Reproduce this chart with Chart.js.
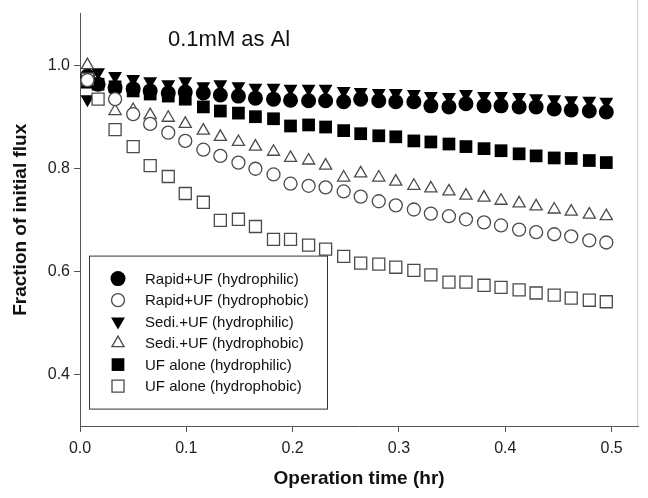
<!DOCTYPE html>
<html lang="en">
<head>
<meta charset="UTF-8">
<title>Fraction of initial flux</title>
<script src="https://cdn.jsdelivr.net/npm/chart.js"></script>
<style>
    html, body { margin: 0; padding: 0; background: #fff; }
</style>
</head>
<body>
<canvas id="fluxChart" width="648" height="498"></canvas>

<script>
    // operation time (hr)
    const times = [0.007, 0.017, 0.033, 0.050, 0.066, 0.083, 0.099, 0.116, 0.132, 0.149, 0.165,
        0.182, 0.198, 0.215, 0.231, 0.248, 0.264, 0.281, 0.297, 0.314, 0.330,
        0.347, 0.363, 0.380, 0.396, 0.413, 0.429, 0.446, 0.462, 0.479, 0.495];

    // fraction of initial flux, one list per run (null = point not shown)
    const rapidPhilic = [0.979, 0.963, 0.956, 0.954, 0.950, 0.946, 0.948, 0.946, 0.942, 0.940, 0.936,
        0.934, 0.932, 0.931, 0.931, 0.929, 0.934, 0.931, 0.929, 0.929, 0.921,
        0.919, 0.925, 0.921, 0.921, 0.919, 0.919, 0.915, 0.913, 0.911, 0.909];
    const rapidPhobic = [0.971, null, 0.934, 0.905, 0.886, 0.869, 0.853, 0.836, 0.824, 0.811, 0.799,
        0.788, 0.770, 0.766, 0.763, 0.755, 0.745, 0.736, 0.728, 0.720, 0.712,
        0.707, 0.701, 0.695, 0.689, 0.681, 0.676, 0.672, 0.668, 0.660, 0.656];
    const sediPhilic = [0.934, 0.986, 0.979, 0.973, 0.969, 0.963, 0.969, 0.959, 0.963, 0.959, 0.956,
        0.956, 0.954, 0.954, 0.954, 0.950, 0.948, 0.946, 0.946, 0.944, 0.940,
        0.938, 0.944, 0.940, 0.940, 0.938, 0.936, 0.934, 0.932, 0.931, 0.929];
    const sediPhobic = [1.000, null, 0.911, 0.913, 0.903, 0.898, 0.886, 0.873, 0.861, 0.851, 0.842,
        0.832, 0.820, 0.815, 0.805, 0.782, 0.790, 0.782, 0.774, 0.766, 0.761,
        0.755, 0.747, 0.743, 0.737, 0.732, 0.726, 0.720, 0.716, 0.710, 0.707];
    const ufPhilic = [0.967, 0.963, 0.958, 0.950, 0.944, 0.940, 0.934, 0.919, 0.911, 0.907, 0.900,
        0.896, 0.882, 0.884, 0.880, 0.873, 0.867, 0.863, 0.861, 0.853, 0.851,
        0.847, 0.842, 0.838, 0.834, 0.828, 0.824, 0.820, 0.819, 0.815, 0.811];
    const ufPhobic = [0.973, 0.934, 0.875, 0.842, 0.805, 0.784, 0.751, 0.734, 0.699, 0.701, 0.687,
        0.662, 0.662, 0.651, 0.643, 0.629, 0.616, 0.614, 0.608, 0.602, 0.593,
        0.579, 0.579, 0.573, 0.569, 0.564, 0.558, 0.554, 0.548, 0.544, 0.541];

    const seriesNames = ["Rapid+UF (hydrophilic)", "Rapid+UF (hydrophobic)", "Sedi.+UF (hydrophilic)",
        "Sedi.+UF (hydrophobic)", "UF alone (hydrophilic)", "UF alone (hydrophobic)"];
    const xTicks = [0.0, 0.1, 0.2, 0.3, 0.4, 0.5];
    const yTicks = [0.4, 0.6, 0.8, 1.0];
    const note = "0.1mM as Al";

    const FONT = '"Liberation Sans", Arial, Helvetica, sans-serif';

    function toPoints(values) {
        let pts = [];
        values.forEach(function (v, i) {
            if (v !== null) pts.push({ x: times[i], y: v });
        });
        return pts;
    }

    // filled = black, open = white with grey outline
    function serie(label, values, shape, radius, filled, rotation) {
        return {
            label: label,
            data: toPoints(values),
            showLine: false,
            pointStyle: shape,
            pointRadius: radius,
            pointHoverRadius: radius,
            pointRotation: rotation || 0,
            pointBackgroundColor: filled ? '#000' : '#fff',
            pointBorderColor: filled ? '#000' : '#4a4a4a',
            pointBorderWidth: filled ? 0 : 1.3,
            order: filled ? 1 : 0,
            clip: false
        };
    }

    function drawMarker(ctx, ds, x, y) {
        let r = ds.pointRadius;
        ctx.save();
        ctx.fillStyle = ds.pointBackgroundColor;
        ctx.strokeStyle = ds.pointBorderColor;
        ctx.beginPath();
        if (ds.pointStyle == 'circle') {
            ctx.arc(x, y, r, 0, Math.PI * 2);
        } else if (ds.pointStyle == 'rect') {
            let s = r * Math.SQRT1_2;
            ctx.rect(x - s, y - s, 2 * s, 2 * s);
        } else {
            let d = ds.pointRotation == 180 ? -1 : 1;
            ctx.moveTo(x, y - d * r);
            ctx.lineTo(x + r * 0.866, y + d * r / 2);
            ctx.lineTo(x - r * 0.866, y + d * r / 2);
            ctx.closePath();
        }
        ctx.fill();
        if (ds.pointBorderWidth > 0) {
            ctx.lineWidth = ds.pointBorderWidth;
            ctx.stroke();
        }
        ctx.restore();
    }

    // note text, legend inside the plot and the thin right frame
    const insideLegend = {
        id: 'insideLegend',
        afterDatasetsDraw(chart) {
            const ctx = chart.ctx;
            const area = chart.chartArea;
            ctx.save();

            ctx.strokeStyle = '#c8c8c8';
            ctx.lineWidth = 1;
            ctx.beginPath();
            ctx.moveTo(area.right - 0.5, 0);
            ctx.lineTo(area.right - 0.5, area.bottom);
            ctx.stroke();

            ctx.fillStyle = '#111';
            ctx.textAlign = 'left';
            ctx.textBaseline = 'middle';
            ctx.font = '22px ' + FONT;
            ctx.fillText(note, area.left + 88, area.top + 26);

            const bx = area.left + 9, by = area.top + 242, bw = 238, bh = 153;
            ctx.strokeStyle = '#333';
            ctx.strokeRect(bx + 0.5, by + 0.5, bw, bh);

            ctx.font = '15px ' + FONT;
            chart.data.datasets.forEach(function (ds, i) {
                let y = by + 23 + i * 21.5;
                drawMarker(ctx, ds, bx + 29, y);
                ctx.fillStyle = '#111';
                ctx.fillText(ds.label, bx + 56, y + 1);
            });
            ctx.restore();
        }
    };

    let ctx = document.getElementById("fluxChart").getContext("2d");

    let fluxChart = new Chart(ctx, {
        type: 'scatter',
        data: {
            datasets: [
                serie(seriesNames[0], rapidPhilic, 'circle', 7.5, true),
                serie(seriesNames[1], rapidPhobic, 'circle', 6.5, false),
                serie(seriesNames[2], sediPhilic, 'triangle', 8, true, 180),
                serie(seriesNames[3], sediPhobic, 'triangle', 7, false),
                serie(seriesNames[4], ufPhilic, 'rect', 9, true),
                serie(seriesNames[5], ufPhobic, 'rect', 8.5, false)
            ]
        },
        options: {
            responsive: false,
            animation: false,
            events: [],
            layout: { padding: { top: 4, right: 8, left: 0, bottom: 0 } },
            plugins: {
                legend: { display: false },
                tooltip: { enabled: false }
            },
            scales: {
                x: {
                    type: 'linear',
                    min: 0,
                    max: 0.525,
                    afterBuildTicks: function (scale) {
                        scale.ticks = xTicks.map(function (v) { return { value: v }; });
                    },
                    afterFit: function (scale) { scale.height = 72; },
                    ticks: {
                        callback: function (v) { return v.toFixed(1); },
                        font: { family: FONT, size: 16 },
                        color: '#222',
                        padding: 7,
                        maxRotation: 0,
                        autoSkip: false
                    },
                    grid: { drawOnChartArea: false, drawTicks: true, tickLength: 6, color: '#555' },
                    border: { display: true, color: '#555', width: 1 },
                    title: {
                        display: true,
                        text: 'Operation time (hr)',
                        font: { family: FONT, size: 19, weight: 'bold' },
                        color: '#111',
                        padding: { top: 0, bottom: 8 }
                    }
                },
                y: {
                    type: 'linear',
                    min: 0.3,
                    max: 1.1,
                    afterBuildTicks: function (scale) {
                        scale.ticks = yTicks.map(function (v) { return { value: v }; });
                    },
                    afterFit: function (scale) { scale.width = 80; },
                    ticks: {
                        callback: function (v) { return v.toFixed(1); },
                        font: { family: FONT, size: 16 },
                        color: '#222',
                        padding: 4,
                        autoSkip: false
                    },
                    grid: { drawOnChartArea: false, drawTicks: true, tickLength: 6, color: '#555' },
                    border: { display: true, color: '#555', width: 1 },
                    title: {
                        display: true,
                        text: 'Fraction of initial flux',
                        font: { family: FONT, size: 19, weight: 'bold' },
                        color: '#111',
                        padding: { top: 9, bottom: 0 }
                    }
                }
            }
        },
        plugins: [insideLegend]
    });
</script>
</body>
</html>
